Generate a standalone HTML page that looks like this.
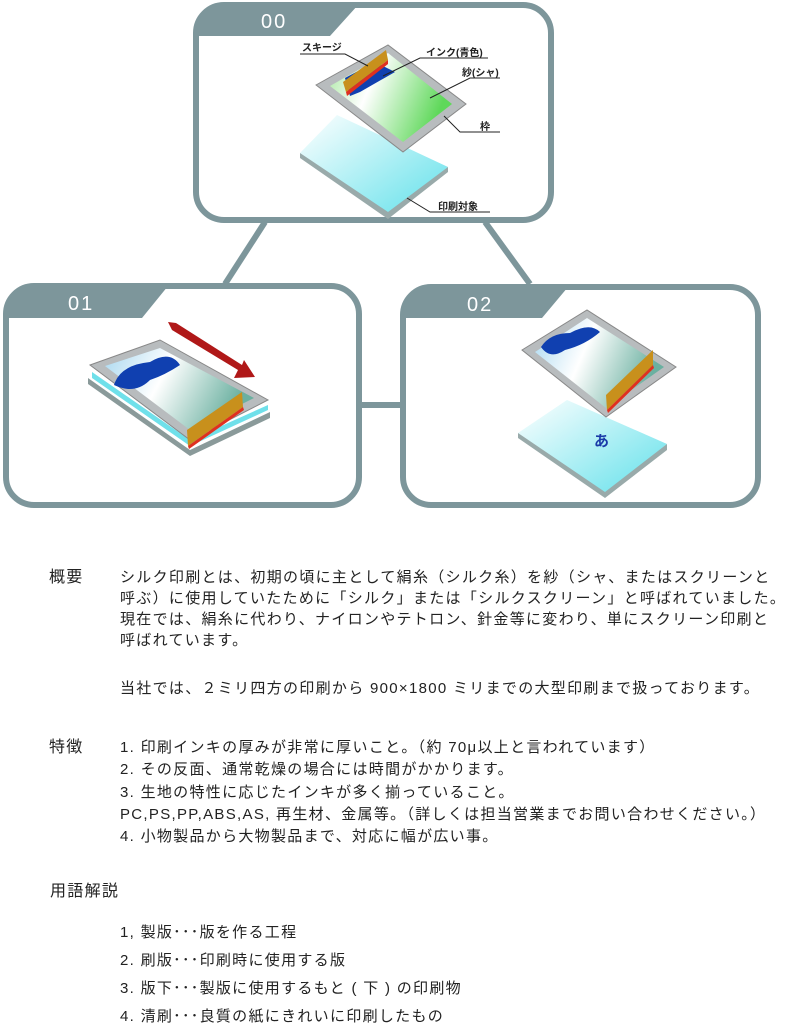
<!DOCTYPE html>
<html><head><meta charset="utf-8"><style>
body{margin:0;width:789px;height:1024px;background:#fff;position:relative;overflow:hidden;font-family:"Liberation Sans","Noto Sans CJK JP",sans-serif;color:#222}
.t{position:absolute;font-size:15px;letter-spacing:1.3px;line-height:21px;white-space:nowrap}
</style></head><body>
<svg width="789" height="520" style="position:absolute;left:0;top:0">
<defs>
<linearGradient id="g" x1="0" y1="0" x2="1" y2="0.3"><stop offset="0" stop-color="#a8e8a0"/><stop offset="0.4" stop-color="#fff"/><stop offset="1" stop-color="#5fd85a"/></linearGradient>
<linearGradient id="g2" x1="0" y1="0" x2="1" y2="0.3"><stop offset="0" stop-color="#a8d8f0"/><stop offset="0.45" stop-color="#fff"/><stop offset="1" stop-color="#6ab0a0"/></linearGradient>
<linearGradient id="c" x1="0" y1="0" x2="1" y2="1"><stop offset="0" stop-color="#fff"/><stop offset="1" stop-color="#5ee0ea"/></linearGradient>
</defs>
<g stroke="#7d969b" stroke-width="6" fill="none">
<line x1="265" y1="222" x2="225" y2="284"/><line x1="485" y1="222" x2="530" y2="284"/><line x1="360" y1="405" x2="400" y2="405"/>
<rect x="196" y="5" width="355" height="215" rx="28" fill="#fff"/>
<rect x="6" y="286" width="353" height="219" rx="28" fill="#fff"/>
<rect x="403" y="287" width="355" height="218" rx="28" fill="#fff"/>
</g>
<path d="M196 36 V33 A28 28 0 0 1 224 5 H358 L330 36 Z" fill="#7d969b"/>
<path d="M6 318 V314 A28 28 0 0 1 34 286 H168 L142 318 Z" fill="#7d969b"/>
<path d="M403 318 V315 A28 28 0 0 1 431 287 H568 L542 318 Z" fill="#7d969b"/>
<g fill="#fff" font-size="20" font-family="Liberation Sans, sans-serif" letter-spacing="2"><text x="261" y="28">00</text><text x="68" y="310">01</text><text x="467" y="311">02</text></g>

<polygon points="300,153 337,115 448,167 388,218" fill="url(#c)"/>
<polygon points="300,153 388,212 448,167 448,172 388,219 300,158" fill="#9aa"/>
<polygon points="316,85 388,45 466,104 403,152" fill="#b8bcbe" stroke="#888" stroke-width="1"/>
<polygon points="330,86 388,53 452,104 403,142" fill="url(#g)"/>
<polygon points="345,78 375,62 395,72 360,92 350,96" fill="#1040b0"/>
<polygon points="343,82 386,50 388,60 346,92" fill="#c8901c"/>
<polygon points="346,92 388,60 388,64 347,96" fill="#e03020"/>

<polygon points="88,378 190,450 270,412 270,418 190,456 88,384" fill="#8a9a9a"/>
<polygon points="92,372 190,440 268,405 268,410 190,446 92,378" fill="#6fe0ea"/>
<polygon points="90,365 160,340 268,400 190,440" fill="#b8bcbe" stroke="#888" stroke-width="1"/>
<polygon points="105,366 160,348 254,398 190,430" fill="url(#g2)"/>
<path d="M114 385 Q120 365 150 362 Q170 350 180 365 Q165 375 150 380 Q135 395 114 385Z" fill="#1040b0"/>
<polygon points="187,430 242,392 243,407 188,446" fill="#c8901c"/>
<polygon points="188,446 243,407 244,410 189,449" fill="#e03020"/>
<polygon points="168,322 172,330 238,370 234,378 255,377 244,360 242,365 176,323" fill="#b01818"/>

<polygon points="518,433 567,400 667,444 605,497" fill="url(#c)"/>
<polygon points="518,433 605,492 667,444 667,450 605,498 518,438" fill="#9aa"/>
<polygon points="522,350 587,310 676,367 606,417" fill="#b8bcbe" stroke="#888" stroke-width="1"/>
<polygon points="535,352 587,318 664,367 606,408" fill="url(#g2)"/>
<path d="M541 347 Q550 333 570 333 Q590 322 600 332 Q585 345 565 350 Q550 360 541 347Z" fill="#1040b0"/>
<polygon points="606,395 653,350 653,365 607,410" fill="#c8901c"/>
<polygon points="607,410 653,365 654,368 608,413" fill="#e03020"/>
<text x="594" y="446" fill="#1a3aa8" font-size="15" font-weight="bold" font-family="Noto Sans CJK JP, sans-serif">あ</text>

<g stroke="#222" stroke-width="1" fill="none">
<polyline points="300,54 345,54 368,66"/><polyline points="488,58 420,58 383,76"/><polyline points="500,78 470,78 430,98"/>
<polyline points="500,132 460,132 444,116"/><polyline points="490,212 430,212 407,198"/>
</g>
<g font-size="10" font-weight="bold" fill="#222" font-family="Liberation Sans, Noto Sans CJK JP, sans-serif">
<text x="302" y="51">スキージ</text><text x="426" y="56">インク(青色)</text><text x="462" y="76">紗(シャ)</text><text x="480" y="130">枠</text><text x="438" y="210">印刷対象</text>
</g>
</svg>
<div class="t" style="left:49px;top:567px;font-size:16px">概要</div>
<div class="t" style="left:120px;top:567px">シルク印刷とは、初期の頃に主として絹糸（シルク糸）を紗（シャ、またはスクリーンと<br>呼ぶ）に使用していたために「シルク」または「シルクスクリーン」と呼ばれていました。<br>現在では、絹糸に代わり、ナイロンやテトロン、針金等に変わり、単にスクリーン印刷と<br>呼ばれています。</div>
<div class="t" style="left:120px;top:678px">当社では、２ミリ四方の印刷から 900×1800 ミリまでの大型印刷まで扱っております。</div>
<div class="t" style="left:49px;top:737px;font-size:16px">特徴</div>
<div class="t" style="left:120px;top:737px;line-height:22.3px">1. 印刷インキの厚みが非常に厚いこと。（約 70μ以上と言われています）<br>2. その反面、通常乾燥の場合には時間がかかります。<br>3. 生地の特性に応じたインキが多く揃っていること。<br>PC,PS,PP,ABS,AS, 再生材、金属等。（詳しくは担当営業までお問い合わせください。）<br>4. 小物製品から大物製品まで、対応に幅が広い事。</div>
<div class="t" style="left:50px;top:881px;font-size:16px">用語解説</div>
<div class="t" style="left:120px;top:919px;line-height:28px">1, 製版･･･版を作る工程<br>2. 刷版･･･印刷時に使用する版<br>3. 版下･･･製版に使用するもと ( 下 ) の印刷物<br>4. 清刷･･･良質の紙にきれいに印刷したもの</div>
</body></html>
